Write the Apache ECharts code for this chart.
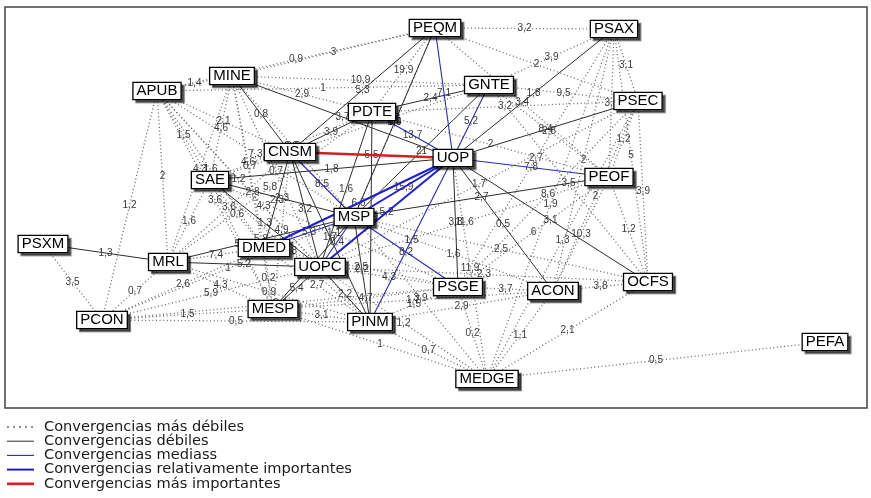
<!DOCTYPE html>
<html>
<head>
<meta charset="utf-8">
<script src="https://cdn.jsdelivr.net/npm/echarts@6/dist/echarts.min.js"></script>
<style>
  html, body { margin: 0; padding: 0; background: #fff; }
  #chart { width: 871px; height: 498px; }
</style>
</head>
<body>
<div id="chart"></div>
<script>
// Sector nodes and their layout positions
const nodeNames = ['PEQM','PSAX','GNTE','MINE','APUB','PSEC','PDTE','CNSM','UOP','PEOF','SAE','PSXM',
                   'MRL','DMED','MSP','UOPC','PSGE','ACON','OCFS','MESP','PCON','PINM','MEDGE','PEFA'];
const nodeX = [435,614,489,232,157,638,372,290,453,609,210,43, 168,264,354,320,458,553,648,273,102,370,487,825];
const nodeY = [ 28, 29, 85, 76, 91,101,112,152,158,177,180,244, 262,248,217,267,287,291,282,309,320,322,379,342];

// Convergence links by strength class: [source, target, value]
const weakestLinks = [
  ['APUB','MINE',1.4], ['APUB','PEQM',0.9], ['MINE','PEQM',3], ['APUB','GNTE',1], ['MINE','GNTE',10.9],
  ['PEQM','PSAX',3.2], ['PEQM','PSEC',2], ['PSAX','GNTE',3.9], ['GNTE','PSEC',9.5], ['GNTE','PEOF',2.8],
  ['PSAX','PSEC',3.1], ['PSAX','OCFS',5], ['PSEC','PEOF',1.2], ['PSEC','OCFS',3.9], ['PSEC','ACON',2],
  ['PSAX','PEOF',3.1], ['PEOF','OCFS',1.2], ['PEOF','ACON',10.3], ['ACON','OCFS',3.8], ['PSGE','ACON',3.7],
  ['MEDGE','PEFA',0.5], ['MEDGE','PSGE',0.2], ['MEDGE','PINM',0.7], ['MEDGE','MESP',1], ['MEDGE','UOPC',1.2],
  ['MEDGE','MSP',3.9], ['PCON','PSXM',3.5], ['PCON','MRL',0.7], ['PCON','PINM',0.5], ['PCON','MESP',1.5],
  ['PCON','UOPC',5.9], ['PCON','DMED',2.6], ['APUB','PCON',1.2], ['APUB','MRL',2], ['APUB','SAE',1.5],
  ['APUB','CNSM',2.1], ['APUB','DMED',1.6], ['APUB','UOPC',1.2], ['MINE','SAE',4.6], ['MINE','DMED',4.6],
  ['MINE','MRL',4.3], ['MINE','PDTE',2.9], ['SAE','CNSM',0.7], ['SAE','PDTE',6.2], ['MINE','MSP',3.3],
  ['SAE','MRL',1.6], ['SAE','DMED',0.6], ['SAE','PINM',4.8], ['MRL','DMED',7.4], ['MESP','PINM',3.1],
  ['MESP','DMED',0.2], ['MESP','MRL',4.3], ['MESP','PSGE',4.7], ['PINM','PSGE',1.5], ['PSGE','UOPC',4.3],
  ['MSP','ACON',1.6], ['MSP','OCFS',2.5], ['UOPC','OCFS',2.3], ['UOPC','PEOF',11.6], ['PDTE','PEQM',19.9],
  ['PDTE','PEOF',2], ['CNSM','MRL',3.6], ['PDTE','PSEC',3.2], ['UOP','MEDGE',11.9], ['DMED','PSGE',2.5],
  ['CNSM','GNTE',10.2], ['UOPC','PSEC',1.7], ['MRL','PDTE',5.8], ['MSP','PEQM',1.9],
  ['APUB','MESP',3.6], ['APUB','MSP',7.3], ['APUB','PINM',4.3], ['MINE','UOPC',0.7], ['MINE','MESP',2.8],
  ['PSAX','PSGE',2.7], ['PSAX','MEDGE',1.9], ['PSEC','PSGE',8.6], ['PSEC','MEDGE',1.3], ['PSAX','ACON',2],
  ['GNTE','OCFS',3.5], ['PEQM','PEOF',3.4], ['OCFS','MEDGE',2.1], ['ACON','MEDGE',1.1], ['PCON','MSP',1],
  ['PCON','PSGE',0.4], ['MESP','ACON',1.7], ['PINM','ACON',2.9], ['SAE','MESP',5.2], ['SAE','PSGE',1.1],
  ['CNSM','MESP',4.9], ['DMED','PINM',2.7], ['MRL','PINM',0.9], ['PEOF','PSGE',6]
];
const weakLinks = [
  ['PEQM','CNSM',5.3], ['PEQM','MSP',6.4], ['MINE','CNSM',0.8], ['MINE','UOP',3.7], ['PDTE','GNTE',2.4],
  ['PDTE','CNSM',3.9], ['PDTE','UOPC',1.6], ['GNTE','MSP',21], ['PSAX','UOP',1.8], ['PSEC','UOP',8.4],
  ['PEOF','MSP',2.7], ['OCFS','UOP',3.1], ['ACON','UOP',0.5], ['PSGE','UOP',3.8], ['SAE','UOP',1.8],
  ['SAE','MSP',2.3], ['SAE','UOPC',1.3], ['CNSM','UOPC',3.2], ['CNSM','DMED',2.3], ['CNSM','PINM',1.7],
  ['PSXM','MRL',1.3], ['MRL','MSP',5.8], ['MRL','UOPC',5.2], ['UOPC','MESP',5.4], ['MSP','MESP',4.3],
  ['UOPC','PINM',2.2], ['MSP','PINM',2.2], ['PDTE','PINM',1.9]
];
const mediumLinks = [
  ['PEQM','UOP',7.1], ['GNTE','UOP',5.2], ['PDTE','UOP',13.7], ['PEOF','UOP',7.8], ['UOP','PINM',1.5],
  ['CNSM','MSP',8.5], ['MSP','PSGE',8.2], ['MSP','UOPC',0.4], ['DMED','MSP',5.3]
];
const strongLinks = [
  ['UOP','MSP',15.9], ['UOP','DMED',6.6], ['UOP','UOPC',5.2]
];
const strongestLinks = [
  ['CNSM','UOP',5.5]
];

const legendNames = [
  'Convergencias más débiles',
  'Convergencias débiles',
  'Convergencias mediass',
  'Convergencias relativamente importantes',
  'Convergencias más importantes'
];

// Line style per strength class (same order as the legend)
const classStyles = [
  { color: '#6a6a6a', width: 1.3, type: [1, 2.6] },
  { color: '#2e2e2e', width: 1,   type: 'solid' },
  { color: '#2a2aa8', width: 1.1, type: 'solid' },
  { color: '#1f1fd0', width: 2,   type: 'solid' },
  { color: '#d42020', width: 2.6, type: 'solid' }
];

const linkClasses = [weakestLinks, weakLinks, mediumLinks, strongLinks, strongestLinks];

const nodes = nodeNames.map((n, i) => ({ name: n, value: [nodeX[i], nodeY[i]] }));
const links = [];
const linkLabels = [];
linkClasses.forEach((list, k) => {
  list.forEach(([s, t, v]) => {
    links.push({ source: s, target: t, value: v, lineStyle: classStyles[k] });
    // horizontal value label placed at the middle of the link
    const a = nodeNames.indexOf(s), b = nodeNames.indexOf(t);
    linkLabels.push([(nodeX[a] + nodeX[b]) / 2, (nodeY[a] + nodeY[b]) / 2, v]);
  });
});

const fmt = v => String(v).replace('.', ',');

// Legend drawn as plain graphic rows
const legendGraphics = [];
legendNames.forEach((name, i) => {
  const y = 427 + i * 14.2;
  const st = classStyles[i];
  legendGraphics.push({
    type: 'line',
    shape: { x1: 7, y1: y, x2: 34, y2: y },
    style: { stroke: st.color, lineWidth: st.width, lineDash: Array.isArray(st.type) ? [2, 4] : null }
  });
  legendGraphics.push({
    type: 'text',
    x: 44, y: y,
    style: { text: name, fontSize: 14.6, fill: '#1a1a1a', fontFamily: 'DejaVu Sans, Verdana, sans-serif', verticalAlign: 'middle' }
  });
});

const chart = echarts.init(document.getElementById('chart'), null, { renderer: 'canvas' });
chart.setOption({
  animation: false,
  backgroundColor: '#ffffff',
  grid: { left: 0, right: 0, top: 0, bottom: 0 },
  xAxis: { type: 'value', min: 0, max: 871, show: false },
  yAxis: { type: 'value', min: 0, max: 498, inverse: true, show: false },
  graphic: [
    {
      type: 'rect',
      shape: { x: 5, y: 7, width: 862, height: 401 },
      style: { fill: 'none', stroke: '#444', lineWidth: 1.5 },
      z: 0
    }
  ].concat(legendGraphics),
  series: [{
    type: 'graph',
    coordinateSystem: 'cartesian2d',
    layout: 'none',
    data: nodes,
    links: links,
    symbol: 'rect',
    symbolSize: 1,
    itemStyle: { color: 'rgba(0,0,0,0)' },
    lineStyle: { opacity: 1, curveness: 0 },
    label: {
      show: true,
      position: 'inside',
      formatter: '{b}',
      fontSize: 15,
      fontFamily: 'Liberation Sans, Arial, sans-serif',
      color: '#000',
      backgroundColor: '#fff',
      borderColor: '#000',
      borderWidth: 1.3,
      padding: [1, 3, 0, 3],
      shadowColor: 'rgba(0,0,0,0.55)',
      shadowOffsetX: 3,
      shadowOffsetY: 3,
      shadowBlur: 1
    },
    emphasis: { disabled: true },
    z: 3
  }, {
    type: 'scatter',
    coordinateSystem: 'cartesian2d',
    data: linkLabels,
    symbolSize: 0,
    silent: true,
    label: {
      show: true,
      position: 'inside',
      formatter: p => fmt(p.value[2]),
      fontSize: 10,
      fontFamily: 'Liberation Sans, Arial, sans-serif',
      color: '#000'
    },
    emphasis: { disabled: true },
    z: 2
  }]
});
</script>
</body>
</html>
